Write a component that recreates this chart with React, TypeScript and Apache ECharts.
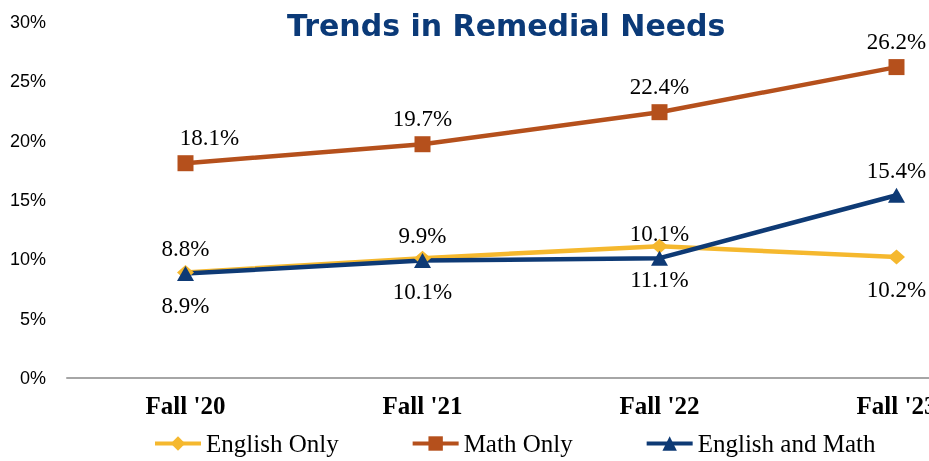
import React, { useEffect, useRef } from "react";
import * as echarts from "echarts";

const categories = ["Fall '20", "Fall '21", "Fall '22", "Fall '23"];
const englishOnly = [8.9, 10.1, 11.1, 10.2];
const mathOnly = [18.1, 19.7, 22.4, 26.2];
const englishAndMath = [8.8, 9.9, 10.1, 15.4];
const yTicks = [0, 5, 10, 15, 20, 25, 30];

export default function App() {
  const ref = useRef<HTMLDivElement>(null);
  useEffect(() => {
    if (!ref.current) return;
    const chart = echarts.init(ref.current, null, { renderer: "svg" });
    const labelStyle = {
      show: true,
      fontFamily: "Liberation Serif",
      fontSize: 23,
      color: "#000",
      formatter: (p: any) => p.value.toFixed(1) + "%",
    };
    chart.setOption({
      animation: false,
      title: {
        text: "Trends in Remedial Needs",
        left: 282,
        top: 5,
        textStyle: {
          fontFamily: "DejaVu Sans",
          fontWeight: "bold",
          fontSize: 30,
          color: "#0B3A78",
        },
      },
      legend: {
        left: 153,
        top: 431,
        padding: 0,
        itemWidth: 46,
        itemHeight: 18,
        itemGap: 72,
        lineStyle: { width: 4 },
        textStyle: {
          fontFamily: "Liberation Serif",
          fontSize: 25,
          color: "#000",
        },
        data: ["English Only", "Math Only", "English and Math"],
      },
      grid: {
        left: 67,
        top: 22,
        width: 948,
        height: 356,
        containLabel: false,
        outerBoundsMode: "none",
      },
      xAxis: {
        type: "category",
        data: categories,
        boundaryGap: true,
        axisLine: { lineStyle: { color: "#A6A6A6", width: 2 } },
        axisTick: { show: false },
        axisLabel: {
          margin: 15,
          fontFamily: "Liberation Serif",
          fontWeight: "bold",
          fontSize: 25,
          color: "#000",
        },
      },
      yAxis: {
        type: "value",
        min: yTicks[0],
        max: yTicks[yTicks.length - 1],
        interval: 5,
        splitLine: { show: false },
        axisLine: { show: false },
        axisTick: { show: false },
        axisLabel: {
          margin: 21,
          fontFamily: "Liberation Sans",
          fontSize: 18,
          color: "#000",
          formatter: (v: number) => v + "%",
        },
      },
      series: [
        {
          name: "English Only",
          type: "line",
          data: englishOnly,
          color: "#F5B82E",
          lineStyle: { width: 4.5, color: "#F5B82E" },
          symbol: "diamond",
          symbolSize: [17, 15],
          itemStyle: { color: "#F5B82E" },
          label: { ...labelStyle, position: "bottom", distance: 14 },
        },
        {
          name: "Math Only",
          type: "line",
          data: mathOnly.map((v, i) =>
            i === 0 ? { value: v, label: { offset: [24, 0] } } : v
          ),
          color: "#B5501C",
          lineStyle: { width: 4.5, color: "#B5501C" },
          symbol: "rect",
          symbolSize: 16,
          itemStyle: { color: "#B5501C" },
          label: { ...labelStyle, position: "top", distance: 6 },
        },
        {
          name: "English and Math",
          type: "line",
          data: englishAndMath,
          color: "#0E3A75",
          lineStyle: { width: 4.5, color: "#0E3A75" },
          symbol: "triangle",
          symbolSize: [17, 15],
          itemStyle: { color: "#0E3A75" },
          label: { ...labelStyle, position: "top", distance: 6 },
        },
      ],
    });
    return () => chart.dispose();
  }, []);
  return (
    <div
      ref={ref}
      style={{ position: "fixed", left: 0, top: 0, width: 929, height: 461 }}
    />
  );
}
